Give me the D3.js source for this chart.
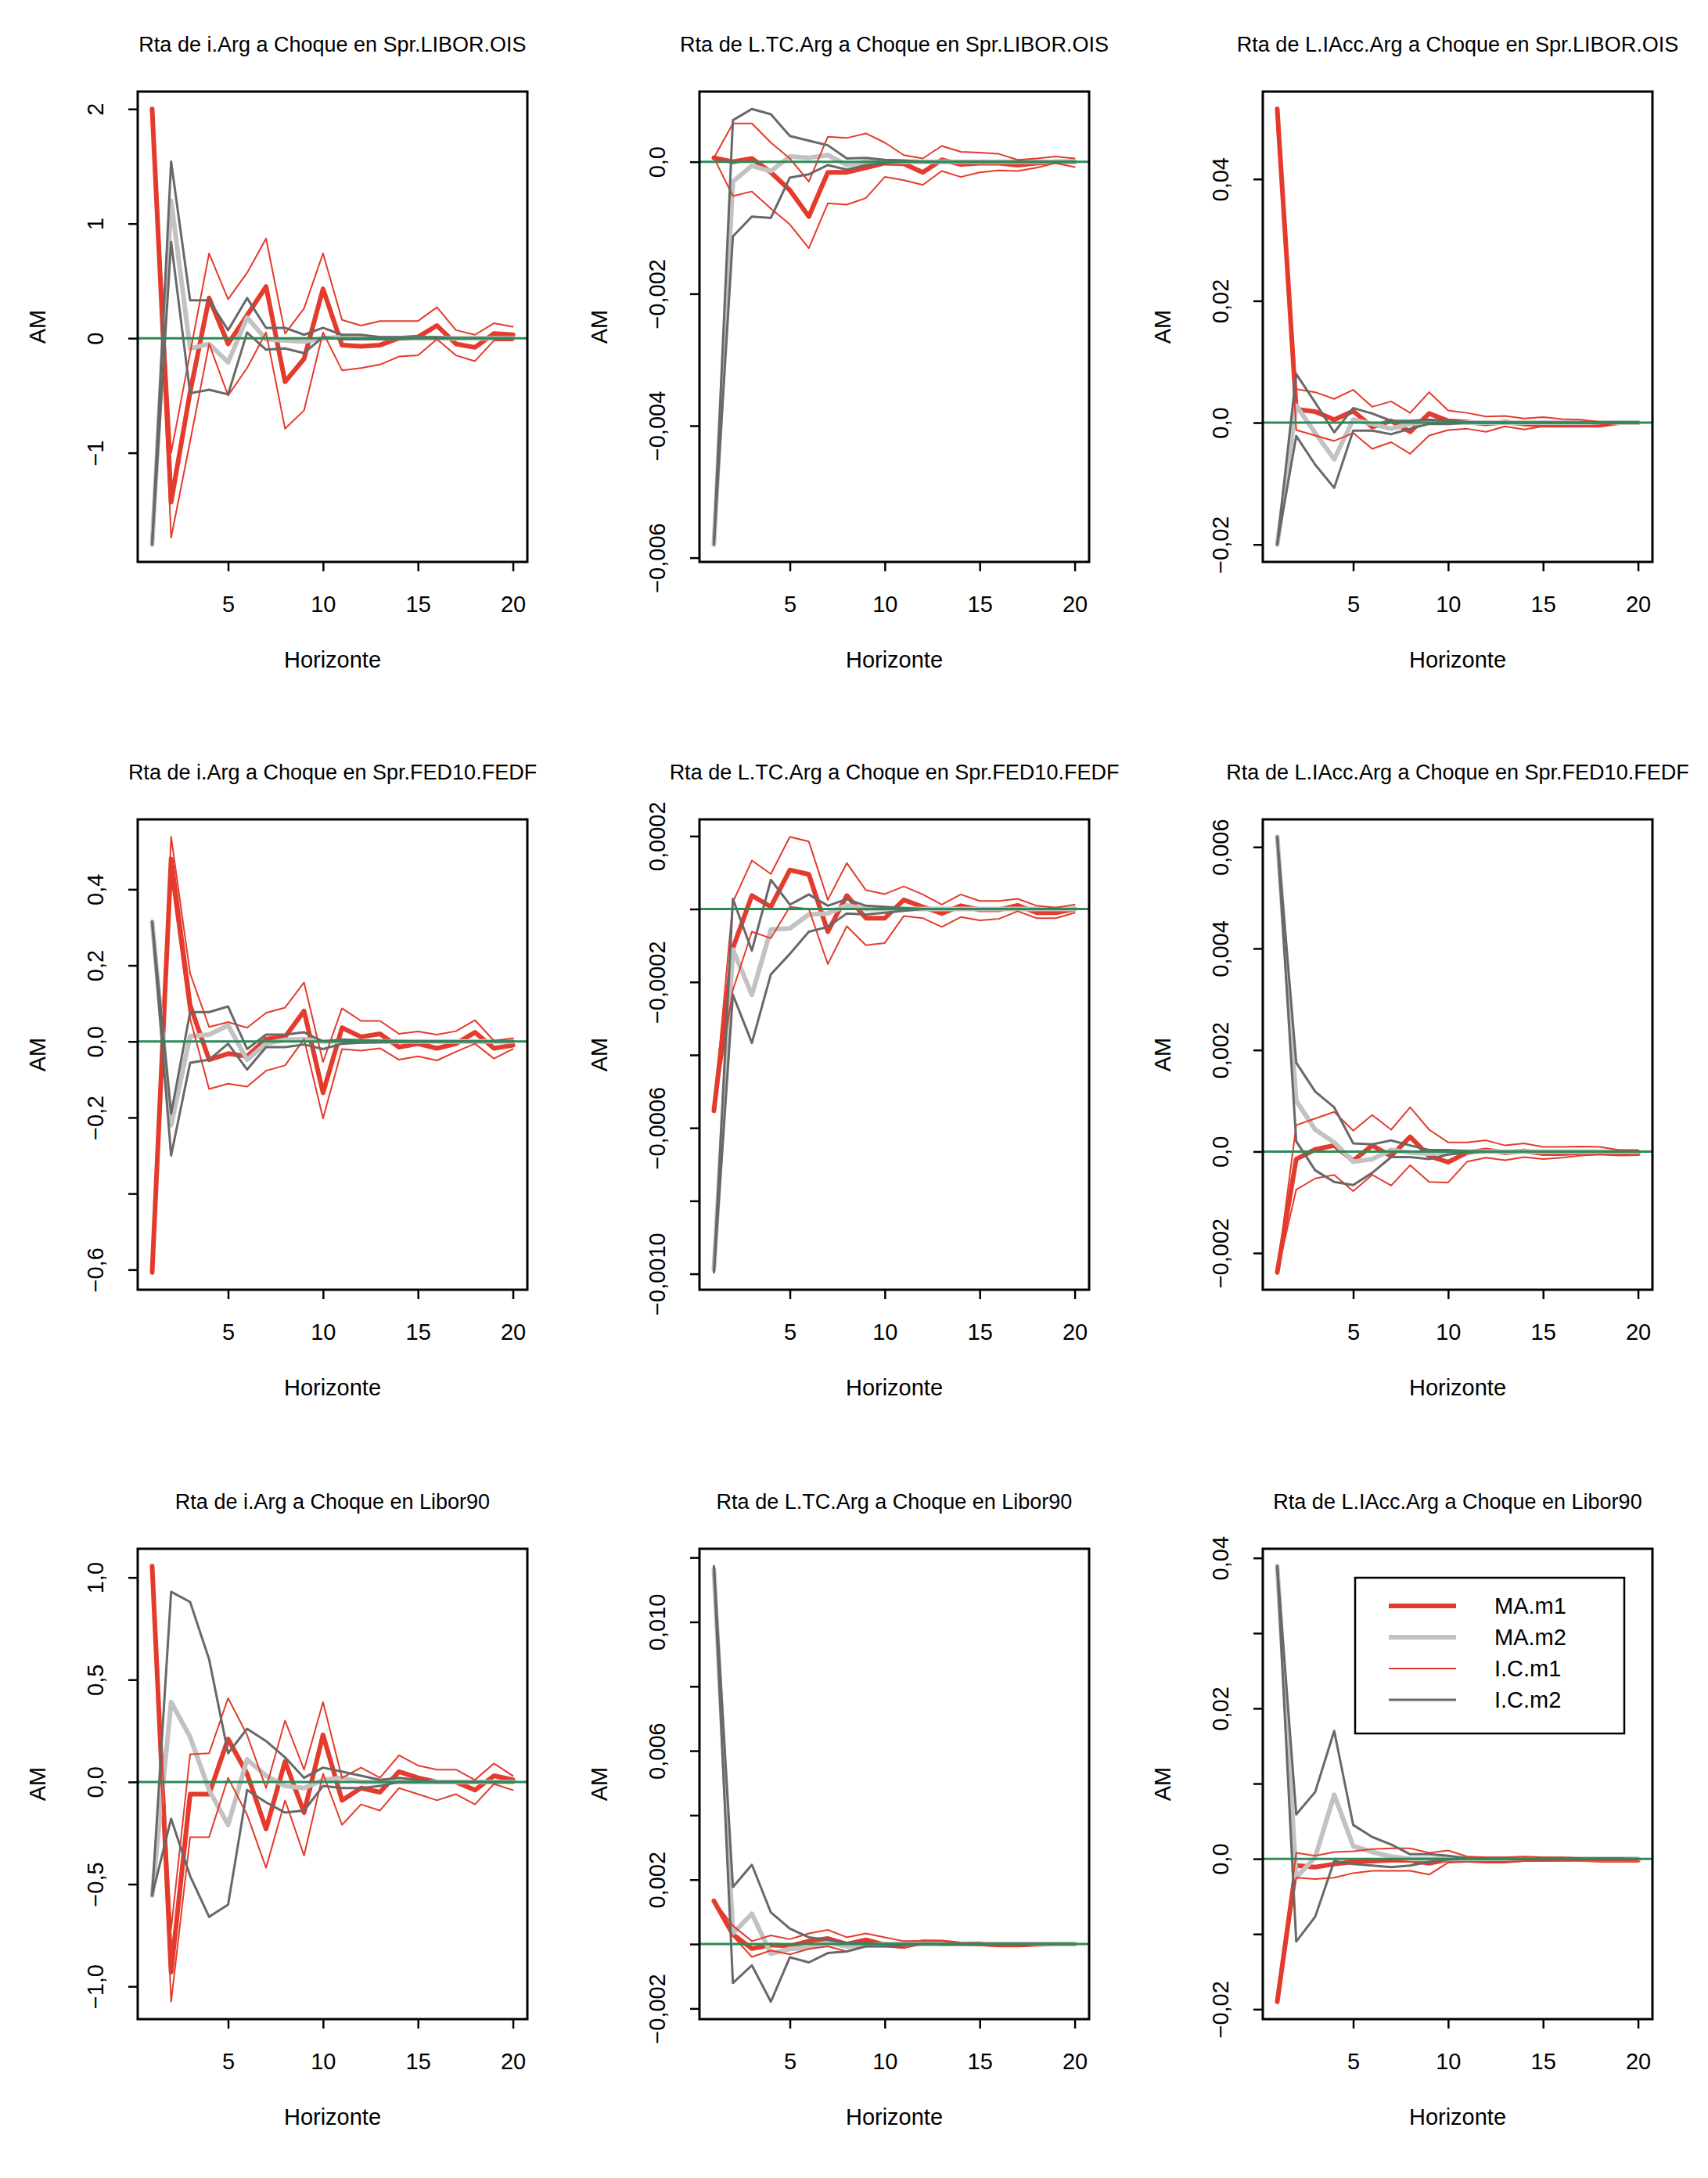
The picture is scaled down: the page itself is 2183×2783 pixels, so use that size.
<!DOCTYPE html>
<html>
<head>
<meta charset="utf-8">
<script src="https://cdn.jsdelivr.net/npm/d3@7"></script>
<style>
body { margin: 0; background: #fff; }
</style>
</head>
<body>
<script>
/* global d3 */

// Data

const horizonte = [1, 2, 3, 4, 5, 6, 7, 8, 9, 10, 11, 12, 13, 14, 15, 16, 17, 18, 19, 20];

const titles = [
    'Rta de i.Arg a Choque en Spr.LIBOR.OIS',
    'Rta de L.TC.Arg a Choque en Spr.LIBOR.OIS',
    'Rta de L.IAcc.Arg a Choque en Spr.LIBOR.OIS',
    'Rta de i.Arg a Choque en Spr.FED10.FEDF',
    'Rta de L.TC.Arg a Choque en Spr.FED10.FEDF',
    'Rta de L.IAcc.Arg a Choque en Spr.FED10.FEDF',
    'Rta de i.Arg a Choque en Libor90',
    'Rta de L.TC.Arg a Choque en Libor90',
    'Rta de L.IAcc.Arg a Choque en Libor90'
];

const xTicks = [5, 10, 15, 20];

const yTicks = [
    [-1, 0, 1, 2],
    [-0.006, -0.004, -0.002, 0],
    [-0.02, 0, 0.02, 0.04],
    [-0.6, -0.4, -0.2, 0, 0.2, 0.4],
    [-0.0010, -0.0008, -0.0006, -0.0004, -0.0002, 0, 0.0002],
    [-0.002, 0, 0.002, 0.004, 0.006],
    [-1, -0.5, 0, 0.5, 1],
    [-0.002, 0, 0.002, 0.004, 0.006, 0.008, 0.010, 0.012],
    [-0.02, -0.01, 0, 0.01, 0.02, 0.03, 0.04]
];

// R drops some labels when they would overlap, hence the blanks
const yTickLabels = [
    ['−1', '0', '1', '2'],
    ['−0,006', '−0,004', '−0,002', '0,0'],
    ['−0,02', '0,0', '0,02', '0,04'],
    ['−0,6', '', '−0,2', '0,0', '0,2', '0,4'],
    ['−0,0010', '', '−0,0006', '', '−0,0002', '', '0,0002'],
    ['−0,002', '0,0', '0,002', '0,004', '0,006'],
    ['−1,0', '−0,5', '0,0', '0,5', '1,0'],
    ['−0,002', '', '0,002', '', '0,006', '', '0,010', ''],
    ['−0,02', '', '0,0', '', '0,02', '', '0,04']
];

// MA.m1 (one row per panel)
const maM1 = [
    [2.0, -1.43, -0.47, 0.35, -0.05, 0.2, 0.45, -0.38, -0.18, 0.43, -0.06, -0.07, -0.06, 0.0, 0.01, 0.11, -0.05, -0.08, 0.04, 0.03],
    [0.00006, 0.0, 0.00005, -0.00016, -0.00043, -0.00083, -0.00016, -0.00016, -0.00009, -0.00002, -0.00003, -0.00016, 0.00003, -0.00004, -0.00002, -0.00002, -0.00005, -0.00002, 0.0, 0.0],
    [0.0515, 0.0022, 0.0018, 0.0005, 0.0019, -0.0007, 0.0003, -0.0015, 0.0015, 0.0003, 0.0001, -0.0002, 0.0001, -0.0002, -0.0004, -0.0004, -0.0004, -0.0004, 0.0, 0.0],
    [-0.607, 0.48, 0.095, -0.048, -0.032, -0.039, 0.006, 0.012, 0.08, -0.135, 0.036, 0.012, 0.02, -0.015, -0.006, -0.018, -0.006, 0.024, -0.018, -0.01],
    [-0.000553, -0.000107, 0.000037, 0.000006, 0.000107, 0.000095, -0.000062, 0.000037, -0.000025, -0.000025, 0.000025, 0.000006, -0.000012, 0.000009, -0.000002, -0.000002, 0.00001, -0.00001, -0.00001, 0.0],
    [-0.00238, -0.00015, 0.00004, 0.00012, -0.00018, 0.00012, -0.00009, 0.00029, -0.00009, -0.00021, -0.00002, 0.00003, -0.00002, 0.00001, -0.00004, -0.00004, -0.00002, -0.00002, -0.00004, -0.00004],
    [1.055, -0.93, -0.06, -0.06, 0.21, 0.04, -0.23, 0.1, -0.15, 0.23, -0.09, -0.03, -0.05, 0.05, 0.02, 0.0, 0.0, -0.04, 0.03, 0.01],
    [0.00134, 0.0003, -0.00014, -0.00003, -0.00006, 0.00009, 0.00017, 0.0, 0.00013, -0.00002, -0.00007, 0.00007, 0.00006, 0.0, 0.00001, -0.00003, -0.00003, -0.00001, 0.0, 0.0],
    [-0.019, -0.0009, -0.0011, -0.0007, -0.0004, -0.0003, -0.0002, -0.0002, -0.0006, -0.0001, -0.0002, -0.0003, -0.0003, -0.0001, -0.0001, -0.0001, -0.0001, -0.0002, -0.0002, -0.0002]
];

// MA.m2
const maM2 = [
    [-1.8, 1.2, -0.09, -0.05, -0.21, 0.18, -0.01, -0.02, -0.03, 0.0, 0.01, 0.01, 0.0, 0.0, 0.0, 0.0, 0.0, 0.0, 0.0, 0.0],
    [-0.0058, -0.0003, -0.00006, -0.00014, 0.00008, 0.00006, 0.0001, -0.00005, 0.0, 0.0, 0.0, 0.0, 0.0, 0.0, 0.0, 0.0, 0.0, 0.0, 0.0, 0.0],
    [-0.02, 0.0028, -0.0017, -0.006, 0.0005, -0.0002, -0.001, -0.0002, 0.0001, 0.0, 0.0, 0.0, 0.0, 0.0, 0.0, 0.0, 0.0, 0.0, 0.0, 0.0],
    [0.315, -0.22, 0.014, 0.018, 0.042, -0.048, -0.006, 0.004, 0.006, 0.0, 0.0, 0.0, 0.0, 0.0, 0.0, 0.0, 0.0, 0.0, 0.0, 0.0],
    [-0.000988, -0.000111, -0.000235, -0.000056, -0.000053, -0.000015, -0.000012, 0.00001, 0.0, 0.0, 0.0, 0.0, 0.0, 0.0, 0.0, 0.0, 0.0, 0.0, 0.0, 0.0],
    [0.0062, 0.001, 0.00043, 0.00018, -0.0002, -0.00015, 0.00003, -0.00002, -0.00004, -0.00002, 0.0, 0.0, 0.0, 0.0, 0.0, 0.0, 0.0, 0.0, 0.0, 0.0],
    [-0.555, 0.39, 0.22, -0.04, -0.21, 0.11, 0.03, -0.02, -0.03, 0.01, 0.02, 0.0, 0.0, 0.0, 0.0, 0.0, 0.0, 0.0, 0.0, 0.0],
    [0.01163, 0.00033, 0.00094, -0.0003, -0.00015, -0.00011, 0.00005, -0.00007, -0.00003, 0.0, 0.0, 0.0, 0.0, 0.0, 0.0, 0.0, 0.0, 0.0, 0.0, 0.0],
    [0.0389, -0.0025, 0.0002, 0.0085, 0.0017, 0.0009, 0.0003, 0.0, 0.0, 0.0, 0.0, 0.0, 0.0, 0.0, 0.0, 0.0, 0.0, 0.0, 0.0, 0.0]
];

// I.C.m1 upper and lower bands
const icM1Upper = [
    [2.0, -1.0, -0.13, 0.74, 0.34, 0.57, 0.87, 0.04, 0.26, 0.74, 0.16, 0.11, 0.15, 0.15, 0.15, 0.27, 0.07, 0.03, 0.13, 0.10],
    [0.00006, 0.00058, 0.00058, 0.00029, 0.00005, -0.0003, 0.00038, 0.00036, 0.00043, 0.00029, 0.0001, 0.00005, 0.00024, 0.00015, 0.00014, 0.00012, 0.00003, 0.00005, 0.00008, 0.00005],
    [0.0515, 0.0055, 0.005, 0.0039, 0.0054, 0.0026, 0.0035, 0.0016, 0.005, 0.002, 0.0016, 0.001, 0.0011, 0.0007, 0.0009, 0.0006, 0.0005, 0.0001, 0.0001, 0.0001],
    [-0.607, 0.538, 0.179, 0.038, 0.051, 0.036, 0.075, 0.089, 0.155, -0.054, 0.087, 0.054, 0.054, 0.02, 0.026, 0.018, 0.027, 0.056, 0.002, 0.008],
    [-0.000553, 0.000019, 0.000133, 0.000096, 0.000198, 0.000185, 0.000025, 0.000126, 0.000052, 0.000041, 0.000062, 0.00004, 0.000012, 0.00004, 0.000022, 0.000022, 0.000028, 0.000009, 0.000004, 0.000012],
    [-0.00238, 0.00052, 0.00065, 0.00078, 0.00041, 0.00072, 0.00043, 0.00087, 0.00043, 0.00018, 0.00018, 0.00022, 0.00012, 0.00016, 0.00009, 0.00009, 0.0001, 0.00009, 0.00003, 0.00003],
    [1.055, -0.72, 0.135, 0.14, 0.41, 0.23, -0.03, 0.3, 0.06, 0.39, 0.02, 0.07, 0.02, 0.13, 0.08, 0.06, 0.06, 0.01, 0.09, 0.03],
    [0.00134, 0.00057, 0.00009, 0.00027, 0.00015, 0.00033, 0.00044, 0.00021, 0.00033, 0.00021, 0.00009, 0.0001, 0.0001, 0.00004, 0.00004, 0.0, 0.0, 0.00001, 0.0, 0.0],
    [-0.019, 0.0008, 0.0004, 0.0009, 0.001, 0.0013, 0.0014, 0.0014, 0.0008, 0.0011, 0.0003, 0.0002, 0.0002, 0.0003, 0.0002, 0.0002, 0.0001, 0.0001, 0.0001, 0.0]
];

const icM1Lower = [
    [2.0, -1.74, -0.9, -0.05, -0.5, -0.26, 0.05, -0.79, -0.63, 0.05, -0.28, -0.26, -0.23, -0.16, -0.15, -0.01, -0.15, -0.2, -0.02, -0.02],
    [0.00006, -0.00052, -0.00045, -0.00071, -0.00095, -0.00131, -0.00063, -0.00065, -0.00055, -0.00023, -0.00028, -0.00035, -0.00014, -0.00023, -0.00016, -0.00013, -0.00014, -0.00009, -0.00002, -0.00008],
    [0.0515, -0.0012, -0.0021, -0.003, -0.0017, -0.0043, -0.0032, -0.0051, -0.0021, -0.0012, -0.001, -0.0015, -0.0006, -0.0011, -0.0006, -0.0006, -0.0006, -0.0004, -0.0001, -0.0001],
    [-0.607, 0.435, 0.06, -0.125, -0.111, -0.119, -0.077, -0.063, 0.006, -0.202, -0.02, -0.024, -0.018, -0.048, -0.039, -0.05, -0.027, -0.006, -0.045, -0.02],
    [-0.000553, -0.000222, -0.000062, -0.00008, 0.000006, 0.0, -0.000151, -0.000047, -0.000099, -0.000093, -0.000019, -0.000025, -0.000049, -0.000022, -0.000031, -0.000027, -0.000006, -0.000025, -0.000025, -0.00001],
    [-0.00238, -0.00075, -0.00053, -0.00046, -0.00078, -0.00046, -0.00067, -0.00027, -0.0006, -0.00061, -0.0002, -0.00012, -0.00017, -0.00011, -0.00015, -0.00012, -0.00008, -0.00006, -0.00008, -0.00007],
    [1.055, -1.075, -0.27, -0.27, 0.02, -0.16, -0.42, -0.09, -0.36, 0.04, -0.21, -0.11, -0.14, -0.03, -0.06, -0.09, -0.06, -0.11, -0.01, -0.04],
    [0.00134, 0.00025, -0.0004, -0.0002, -0.00032, -0.00015, -0.00007, -0.00023, -0.00007, -0.00008, -0.00012, 0.0, -0.00003, -0.00003, -0.00004, -0.00006, -0.00006, -0.00003, -0.00001, -0.00001],
    [-0.019, -0.0025, -0.0027, -0.0025, -0.0019, -0.0016, -0.0016, -0.0016, -0.0021, -0.0005, -0.0004, -0.0004, -0.0004, -0.0003, -0.0003, -0.0002, -0.0002, -0.0002, -0.0002, -0.0002]
];

// I.C.m2 upper and lower bands
const icM2Upper = [
    [-1.8, 1.54, 0.33, 0.33, 0.07, 0.35, 0.09, 0.09, 0.03, 0.09, 0.03, 0.03, 0.01, 0.01, 0.01, 0.01, 0.0, 0.0, 0.0, 0.0],
    [-0.0058, 0.00063, 0.0008, 0.00072, 0.00039, 0.00032, 0.00025, 0.00005, 0.00006, 0.00003, 0.00002, 0.0, 0.0, 0.0, 0.0, 0.0, 0.0, 0.0, 0.0, 0.0],
    [-0.02, 0.008, 0.0033, -0.0016, 0.0024, 0.0015, 0.0003, 0.0003, 0.0005, 0.0003, 0.0001, 0.0, 0.0, 0.0, 0.0, 0.0, 0.0, 0.0, 0.0, 0.0],
    [0.315, -0.19, 0.077, 0.077, 0.092, -0.02, 0.018, 0.018, 0.024, 0.0, 0.005, 0.003, 0.002, 0.001, 0.0, 0.0, 0.0, 0.0, 0.0, 0.0],
    [-0.000996, 0.000028, -0.000114, 0.00008, 0.000012, 0.00004, 0.000009, 0.000027, 0.000009, 0.000006, 0.000003, 0.0, 0.0, 0.0, 0.0, 0.0, 0.0, 0.0, 0.0, 0.0],
    [0.0062, 0.00175, 0.00118, 0.00087, 0.00016, 0.00014, 0.00022, 0.00012, 0.00003, 0.00003, 0.00001, 0.0, 0.0, 0.0, 0.0, 0.0, 0.0, 0.0, 0.0, 0.0],
    [-0.555, 0.93, 0.88, 0.6, 0.14, 0.26, 0.2, 0.12, 0.02, 0.07, 0.05, 0.03, 0.01, 0.02, 0.01, 0.0, 0.0, 0.0, 0.0, 0.0],
    [0.01173, 0.00177, 0.00246, 0.00098, 0.00048, 0.00021, 0.00013, 0.00003, 0.00003, 0.0, 0.0, 0.0, 0.0, 0.0, 0.0, 0.0, 0.0, 0.0, 0.0, 0.0],
    [0.0389, 0.0059, 0.0089, 0.017, 0.0045, 0.0029, 0.0019, 0.0006, 0.0006, 0.0004, 0.0001, 0.0, 0.0, 0.0, 0.0, 0.0, 0.0, 0.0, 0.0, 0.0]
];

const icM2Lower = [
    [-1.8, 0.84, -0.48, -0.45, -0.49, 0.05, -0.1, -0.09, -0.13, 0.01, -0.01, -0.01, -0.01, -0.01, 0.0, 0.0, 0.0, 0.0, 0.0, 0.0],
    [-0.0058, -0.00113, -0.00083, -0.00085, -0.00024, -0.00019, -0.00005, -0.00012, -0.00005, -0.00002, 0.0, 0.0, 0.0, 0.0, 0.0, 0.0, 0.0, 0.0, 0.0, 0.0],
    [-0.02, -0.0022, -0.0069, -0.0107, -0.0013, -0.0013, -0.0019, -0.001, -0.0002, -0.0002, 0.0, 0.0, 0.0, 0.0, 0.0, 0.0, 0.0, 0.0, 0.0, 0.0],
    [0.315, -0.3, -0.056, -0.048, -0.006, -0.074, -0.015, -0.015, -0.008, -0.02, -0.006, -0.003, -0.002, -0.001, 0.0, 0.0, 0.0, 0.0, 0.0, 0.0],
    [-0.000996, -0.000235, -0.000367, -0.000179, -0.000123, -0.000062, -0.000049, -0.000012, -0.000015, -0.00001, -0.000005, 0.0, 0.0, 0.0, 0.0, 0.0, 0.0, 0.0, 0.0, 0.0],
    [0.0062, 0.0002, -0.00037, -0.0006, -0.00066, -0.00042, -0.00011, -0.00011, -0.00015, -0.00006, -0.00002, 0.0, 0.0, 0.0, 0.0, 0.0, 0.0, 0.0, 0.0, 0.0],
    [-0.555, -0.18, -0.46, -0.66, -0.6, -0.04, -0.1, -0.15, -0.14, -0.02, -0.03, -0.03, -0.02, 0.0, 0.0, 0.0, 0.0, 0.0, 0.0, 0.0],
    [0.01173, -0.00121, -0.00066, -0.00179, -0.00041, -0.00057, -0.00028, -0.00023, -0.00007, -0.00007, -0.00003, 0.0, 0.0, 0.0, 0.0, 0.0, 0.0, 0.0, 0.0, 0.0],
    [0.0389, -0.011, -0.0077, -0.0003, -0.0007, -0.0009, -0.0011, -0.0009, -0.0004, -0.0001, 0.0, 0.0, 0.0, 0.0, 0.0, 0.0, 0.0, 0.0, 0.0, 0.0]
];

const legendLabels = ['MA.m1', 'MA.m2', 'I.C.m1', 'I.C.m2'];

// Constants

// SVG setup
const width = 2183;
const height = 2783;

const colLeft = [176, 894, 1614];
const rowTop = [117, 1047, 1979];
const boxW = 498;
const boxH = 601;

const font = '\'Liberation Sans\', Arial, Helvetica, sans-serif';
const red = '#e43b2d';
const lightGrey = '#c2c2c2';
const darkGrey = '#686868';
const green = '#2e8a57';

// drawing order as in the original: MA first, bands after
const series = [
    { rows: maM1, color: red, lw: 6 },
    { rows: maM2, color: lightGrey, lw: 6 },
    { rows: icM1Upper, color: red, lw: 2 },
    { rows: icM1Lower, color: red, lw: 2 },
    { rows: icM2Upper, color: darkGrey, lw: 3 },
    { rows: icM2Lower, color: darkGrey, lw: 3 }
];

const svg = d3.select('body')
.append('svg')
.attr('width', width)
.attr('height', height)
.style('background', '#fff');

titles.forEach((title, p) => drawPanel(p));
drawLegend();

function drawPanel(p) {
    const left = colLeft[p % 3];
    const top = rowTop[Math.floor(p / 3)];

    const g = svg.append('g')
    .attr('transform', `translate(${ left },${ top })`);

    // R style axes: data range plus 4% on each side
    const x = d3.scaleLinear()
    .domain([1 - 19 * 0.04, 20 + 19 * 0.04])
    .range([0, boxW]);

    const allValues = series.flatMap(s => s.rows[p]);
    const [lo, hi] = d3.extent(allValues);
    const pad = (hi - lo) * 0.04;
    const y = d3.scaleLinear()
    .domain([lo - pad, hi + pad])
    .range([boxH, 0]);

    g.append('clipPath')
    .attr('id', `clip${ p }`)
    .append('rect')
    .attr('width', boxW)
    .attr('height', boxH);

    const line = d3.line()
    .x((d, i) => x(horizonte[i]))
    .y(d => y(d));

    const plot = g.append('g')
    .attr('clip-path', `url(#clip${ p })`);

    series.forEach(s => {
        plot.append('path')
        .datum(s.rows[p])
        .attr('d', line)
        .attr('fill', 'none')
        .attr('stroke', s.color)
        .attr('stroke-width', s.lw)
        .attr('stroke-linejoin', 'round')
        .attr('stroke-linecap', 'round');
    });

    // abline(h = 0)
    plot.append('line')
    .attr('x1', 0)
    .attr('x2', boxW)
    .attr('y1', y(0))
    .attr('y2', y(0))
    .attr('stroke', green)
    .attr('stroke-width', 3);

    // x axis
    g.append('g')
    .attr('transform', `translate(0,${ boxH })`)
    .call(d3.axisBottom(x).tickValues(xTicks).tickSize(12).tickSizeOuter(0))
    .call(ax => ax.select('.domain').remove())
    .call(ax => ax.selectAll('line').attr('stroke', '#000').attr('stroke-width', 2.5))
    .call(ax => ax.selectAll('text')
    .attr('y', 64)
    .attr('dy', 0)
    .attr('fill', '#000')
    .attr('font-family', font)
    .attr('font-size', 29));

    // y axis, labels parallel to the axis
    g.append('g')
    .call(d3.axisLeft(y).tickValues(yTicks[p]).tickFormat((d, i) => yTickLabels[p][i]).tickSize(12).tickSizeOuter(0))
    .call(ax => ax.select('.domain').remove())
    .call(ax => ax.selectAll('line').attr('stroke', '#000').attr('stroke-width', 2.5))
    .call(ax => ax.selectAll('text')
    .attr('x', 0)
    .attr('y', 0)
    .attr('dy', 0)
    .attr('transform', 'translate(-44,0) rotate(-90)')
    .attr('text-anchor', 'middle')
    .attr('fill', '#000')
    .attr('font-family', font)
    .attr('font-size', 29));

    // box
    g.append('rect')
    .attr('width', boxW)
    .attr('height', boxH)
    .attr('fill', 'none')
    .attr('stroke', '#000')
    .attr('stroke-width', 3);

    g.append('text')
    .text(titles[p])
    .attr('x', boxW / 2)
    .attr('y', -51)
    .attr('text-anchor', 'middle')
    .attr('font-family', font)
    .attr('font-size', 27);

    g.append('text')
    .text('Horizonte')
    .attr('x', boxW / 2)
    .attr('y', boxH + 135)
    .attr('text-anchor', 'middle')
    .attr('font-family', font)
    .attr('font-size', 29);

    g.append('text')
    .text('AM')
    .attr('transform', `translate(-118,${ boxH / 2 }) rotate(-90)`)
    .attr('text-anchor', 'middle')
    .attr('font-family', font)
    .attr('font-size', 29);
}

function drawLegend() {
    const lg = svg.append('g')
    .attr('transform', 'translate(1732,2016)');

    lg.append('rect')
    .attr('width', 344)
    .attr('height', 199)
    .attr('fill', '#fff')
    .attr('stroke', '#000')
    .attr('stroke-width', 2.5);

    const keys = [series[0], series[1], series[2], series[4]];

    keys.forEach((s, i) => {
        const yy = 36 + i * 40;
        lg.append('line')
        .attr('x1', 43)
        .attr('x2', 129)
        .attr('y1', yy)
        .attr('y2', yy)
        .attr('stroke', s.color)
        .attr('stroke-width', s.lw);

        lg.append('text')
        .text(legendLabels[i])
        .attr('x', 178)
        .attr('y', yy)
        .attr('dy', '0.36em')
        .attr('font-family', font)
        .attr('font-size', 29);
    });
}
</script>
</body>
</html>
